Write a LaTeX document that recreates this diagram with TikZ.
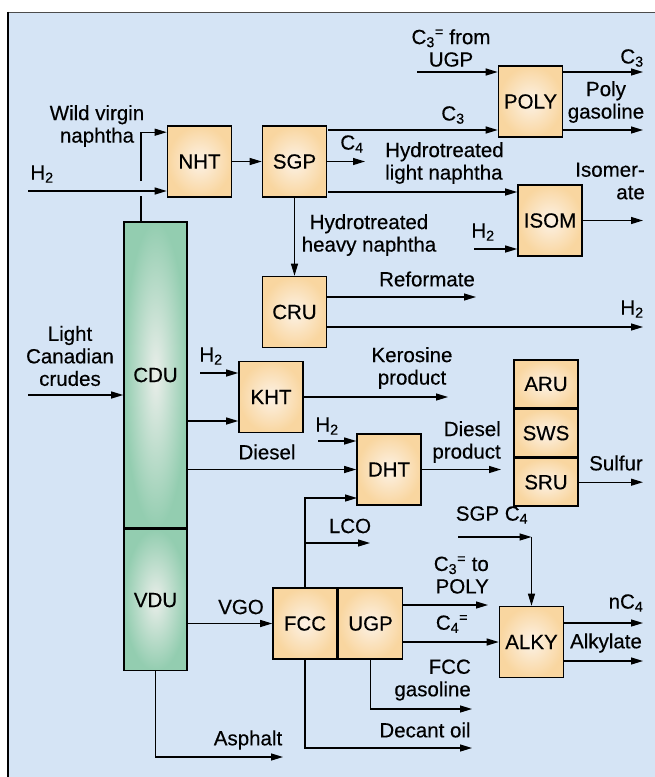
\documentclass[tikz,border=0pt]{standalone}
\usepackage{fontspec}
\setmainfont{Liberation Sans}[FakeBold=0.35]
\usepackage{tikz}
\usetikzlibrary{arrows.meta,positioning}

\definecolor{bgblue}{RGB}{213,228,245}
\definecolor{boxin}{RGB}{252,242,230}
\definecolor{boxout}{RGB}{249,214,160}
\definecolor{colin}{RGB}{234,238,234}
\definecolor{colout}{RGB}{147,205,176}

\begin{document}
\begin{tikzpicture}[x=1pt, y=-1pt, font=\fontsize{20.5}{22.5}\selectfont,
    unit/.style={draw, line width=1.6pt, minimum width=64pt, minimum height=71pt, inner sep=0pt, inner color=boxin, outer color=boxout},
    tower/.style={draw, line width=1.6pt, minimum width=63pt, inner sep=0pt, inner color=colin, outer color=colout},
    flow/.style={line width=1.2pt, -{Triangle[length=12pt,width=7pt]}},
    pipe/.style={line width=1.2pt},
    lbl/.style={align=center, inner sep=0pt}]

    % Frame
    \useasboundingbox (0,0) rectangle (655,777);
    \fill[bgblue] (8,12) rectangle (655,777);
    \draw[line width=1pt, black!70] (8,12) -- (655,12);
    \draw[line width=2pt] (8,11.5) -- (8,777);

    % Towers
    \node[tower, minimum height=306pt] (cdu) at (155.5,375) {CDU};
    \node[tower, minimum height=141pt, below=0pt of cdu] (vdu) {VDU};

    % Process units
    \node[unit] (nht) at (199.5,161.5) {NHT};
    \node[unit] (sgp) at (294.5,161.5) {SGP};
    \node[unit] (poly) at (530.5,101.5) {POLY};
    \node[unit] (isom) at (550,220.5) {ISOM};
    \node[unit] (cru) at (294.5,312) {CRU};
    \node[unit] (kht) at (271,397) {KHT};
    \node[unit] (dht) at (389,469.5) {DHT};
    \node[unit] (fcc) at (305,623.5) {FCC};
    \node[unit, right=0pt of fcc] (ugp) {UGP};
    \node[unit] (alky) at (531.5,642) {ALKY};
    \node[unit, minimum height=47.5pt] (aru) at (546,384) {ARU};
    \node[unit, minimum height=47.5pt, below=0pt of aru] (sws) {SWS};
    \node[unit, minimum height=47.5pt, below=0pt of sws] (sru) {SRU};

    % Free ends
    \coordinate (wvn) at (141,181);
    \coordinate (h2nht) at (28,191);
    \coordinate (c4sgp) at (365,161.5);
    \coordinate (c3sgp) at (328,130);
    \coordinate (ltnap) at (328,192);
    \coordinate (c3ugp) at (417,72);
    \coordinate (c3out) at (643,72);
    \coordinate (pgout) at (643,130);
    \coordinate (isoout) at (643,220.5);
    \coordinate (h2isom) at (474,249);
    \coordinate (refout) at (476,297);
    \coordinate (h2out) at (643,327);
    \coordinate (crude) at (28,395);
    \coordinate (h2kht) at (200,373);
    \coordinate (kin) at (188,421);
    \coordinate (kero) at (448,397);
    \coordinate (h2dht) at (318,441);
    \coordinate (lcoin) at (357,498);
    \coordinate (lcoout) at (370,543);
    \coordinate (dslout) at (501,469.5);
    \coordinate (sulf) at (643,479);
    \coordinate (asph) at (283,757);
    \coordinate (decant) at (472,748);
    \coordinate (fccg) at (472,709);
    \coordinate (c3poly) at (488,605);
    \coordinate (sgpc4) at (458,537);
    \coordinate (nc4) at (643,623);
    \coordinate (alkout) at (643,661);

    % Naphtha side
    \draw[pipe] (cdu.north -| wvn) -- ++(0,-25);
    \draw[flow] (wvn) |- ([yshift=-7pt]nht.north west);
    \draw[flow] (h2nht) -- (h2nht -| nht.west);
    \draw[flow] (nht) -- (sgp);
    \draw[flow] (sgp.east) -- (c4sgp);
    \draw[flow] (c3sgp) -- (c3sgp -| poly.west);
    \draw[flow] (ltnap) -- (ltnap -| isom.west);
    \draw[flow] (sgp) -- (cru);
    \draw[flow] (c3ugp) -- (c3ugp -| poly.west);
    \draw[flow] (c3out -| poly.east) -- (c3out);
    \draw[flow] (pgout -| poly.east) -- (pgout);
    \draw[flow] (isom) -- (isoout);
    \draw[flow] (h2isom) -- (h2isom -| isom.west);
    \draw[flow] (refout -| cru.east) -- (refout);
    \draw[flow] (h2out -| cru.east) -- (h2out);

    % Crude side
    \draw[flow] (crude) -- (crude -| cdu.west);
    \draw[flow] (h2kht) -- (h2kht -| kht.west);
    \draw[flow] (kin) -- (kin -| kht.west);
    \draw[flow] (kht) -- (kero);
    \draw[flow] (cdu.east |- dht) -- (dht);
    \draw[flow] (h2dht) -- (h2dht -| dht.west);
    \draw[flow] (fcc.north) |- (lcoin);
    \draw[flow] (fcc.north |- lcoout) -- (lcoout);
    \draw[flow] (dht) -- (dslout);
    \draw[flow] (sru.east) -- (sru.east -| sulf);

    % Vacuum side
    \draw[flow] (vdu.east |- fcc) -- (fcc);
    \draw[flow] (vdu.south) |- (asph);
    \draw[flow] (fcc.south) |- (decant);
    \draw[flow] (ugp.south) |- (fccg);
    \draw[flow] (c3poly -| ugp.east) -- (c3poly);
    \draw[flow] (ugp.east |- alky) -- (alky);
    \draw[flow] (sgpc4) -- (sgpc4 -| alky.north);
    \draw[flow] (sgpc4 -| alky.north) -- (alky.north);
    \draw[flow] (nc4 -| alky.east) -- (nc4);
    \draw[flow] (alkout -| alky.east) -- (alkout);

    % Labels
    \node[lbl] (wvnlbl) at (97,126) {Wild virgin\\naphtha};
    \node[lbl] (h2a) at (42,174) {H\textsubscript{2}};
    \node[lbl] (c3fromlbl) at (451,48) {C\textsubscript{3}\textsuperscript{=} from\\UGP};
    \node[lbl] (c3toplbl) at (632,58) {C\textsubscript{3}};
    \node[lbl] (pglbl) at (606,102) {Poly\\gasoline};
    \node[lbl] (c3lbl) at (453,115) {C\textsubscript{3}};
    \node[lbl] (c4lbl) at (352,144) {C\textsubscript{4}};
    \node[lbl, align=left, anchor=west] (htlnlbl) at (385,163) {Hydrotreated\\light naphtha};
    \node[lbl, align=right, anchor=east] (isolbl) at (645,181) {Isomer-\\ate};
    \node[lbl] (hthnlbl) at (369,235) {Hydrotreated\\heavy naphtha};
    \node[lbl] (h2b) at (483,232) {H\textsubscript{2}};
    \node[lbl] (reflbl) at (427,279) {Reformate};
    \node[lbl] (h2c) at (632,309) {H\textsubscript{2}};
    \node[lbl] (crudelbl) at (70,356) {Light\\Canadian\\crudes};
    \node[lbl] (h2d) at (211,356) {H\textsubscript{2}};
    \node[lbl] (kerolbl) at (412,368) {Kerosine\\product};
    \node[lbl] (dsllbl) at (267,452) {Diesel};
    \node[lbl] (h2e) at (327,426) {H\textsubscript{2}};
    \node[lbl, align=right, anchor=east] (dsloutlbl) at (501,442) {Diesel\\product};
    \node[lbl] (sulflbl) at (616,463) {Sulfur};
    \node[lbl] (lcolbl) at (350,526) {LCO};
    \node[lbl] (vgolbl) at (241,607) {VGO};
    \node[lbl] (asphlbl) at (248,740) {Asphalt};
    \node[lbl] (sgpc4lbl) at (492,515) {SGP C\textsubscript{4}};
    \node[lbl, align=right, anchor=east] (c3polylbl) at (489,575) {C\textsubscript{3}\textsuperscript{=} to\\POLY};
    \node[lbl] (c4ugplbl) at (452,624) {C\textsubscript{4}\textsuperscript{=}};
    \node[lbl, align=right, anchor=east] (fccglbl) at (471,680) {FCC\\gasoline};
    \node[lbl] (decantlbl) at (425,730) {Decant oil};
    \node[lbl] (nc4lbl) at (626,603) {nC\textsubscript{4}};
    \node[lbl] (alklbl) at (606,643) {Alkylate};
\end{tikzpicture}
\end{document}
